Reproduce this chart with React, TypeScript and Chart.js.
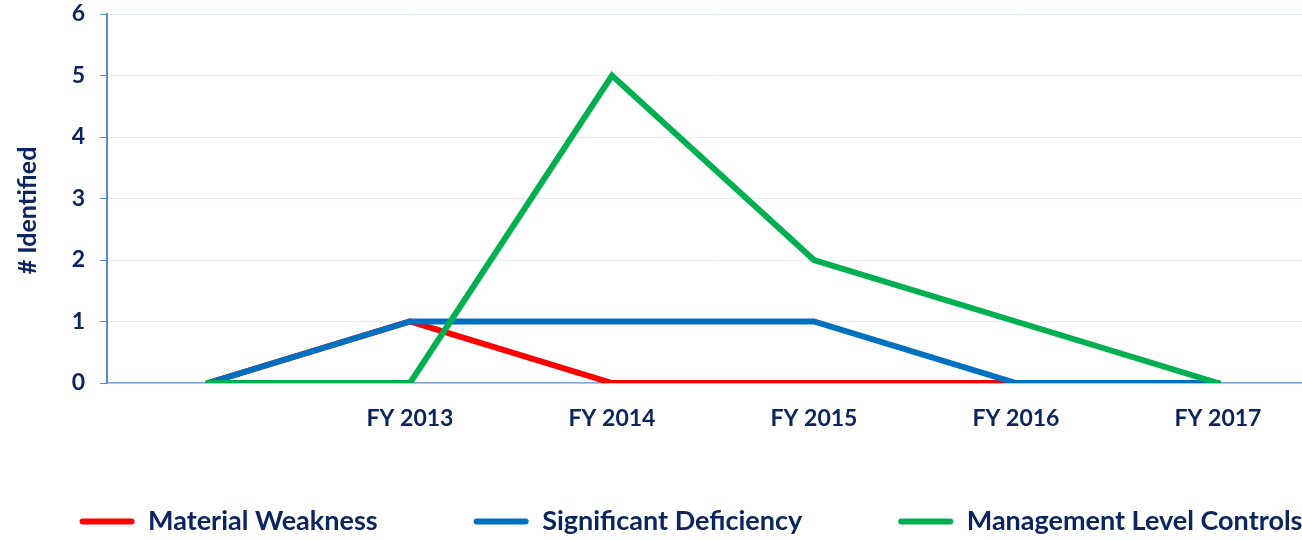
import React, { useEffect, useRef } from "react";
import { Chart, registerables } from "chart.js";

Chart.register(...registerables);

const categories = ["", "FY 2013", "FY 2014", "FY 2015", "FY 2016", "FY 2017"];
const materialWeakness = [0, 1, 0, 0, 0, 0];
const significantDeficiency = [0, 1, 1, 1, 0, 0];
const managementLevelControls = [0, 0, 5, 2, 1, 0];
const seriesNames = ["Material Weakness", "Significant Deficiency", "Management Level Controls"];
const seriesColors = ["#ff0000", "#0070c0", "#00b050"];
const yMin = 0;
const yMax = 6;
const yStep = 1;
const yTitle = "# Identified";

const NAVY = "#0b2560";
const FONT = "Lato, 'Open Sans', sans-serif";
const SHIFT = 18;

const tweaks = {
  id: "tweaks",
  beforeDraw(chart: any) {
    const x = chart.scales.x;
    if (x) x._computeLabelArea = () => undefined;
    const y = chart.scales.y;
    if (y && !y._titleShifted) {
      const orig = y.drawTitle.bind(y);
      y.drawTitle = (...args: any[]) => {
        const ctx = chart.ctx;
        ctx.save();
        ctx.translate(0, 12);
        orig(...args);
        ctx.restore();
      };
      y._titleShifted = true;
    }
  },
};

export default function App() {
  const ref = useRef<HTMLCanvasElement | null>(null);
  useEffect(() => {
    if (!ref.current) return;
    const values = [materialWeakness, significantDeficiency, managementLevelControls];
    const chart = new Chart(ref.current, {
      type: "line",
      data: {
        labels: categories,
        datasets: values.map((v, i) => ({
          label: seriesNames[i],
          data: v,
          borderColor: seriesColors[i],
          backgroundColor: seriesColors[i],
          borderWidth: 6,
          pointRadius: 0,
          pointHoverRadius: 0,
          tension: 0,
          borderCapStyle: "round" as const,
          order: 2 - i,
        })),
      },
      plugins: [tweaks],
      options: {
        animation: false,
        responsive: false,
        maintainAspectRatio: false,
        layout: { padding: 0 },
        plugins: {
          tooltip: { enabled: false },
          legend: {
            position: "bottom",
            labels: {
              boxWidth: 55,
              boxHeight: 6,
              padding: 96,
              color: NAVY,
              useBorderRadius: true,
              borderRadius: 3,
              font: { family: FONT, size: 27, weight: "bold" },
              generateLabels: (c: any) =>
                Chart.defaults.plugins.legend.labels
                  .generateLabels(c)
                  .map((l: any) => ({ ...l, lineWidth: 0, strokeStyle: "transparent" })),
              sort: (a: any, b: any) => a.datasetIndex - b.datasetIndex,
            },
          },
        },
        scales: {
          x: {
            offset: true,
            grid: { display: false, drawTicks: false },
            border: { display: true, color: "#80a4d0", width: 1.5 },
            ticks: {
              color: NAVY,
              padding: 22,
              maxRotation: 0,
              autoSkip: false,
              font: { family: FONT, size: 23, weight: "bold" },
            },
            afterFit: (s: any) => {
              s.height = 29;
            },
          },
          y: {
            min: yMin,
            max: yMax,
            ticks: {
              stepSize: yStep,
              color: NAVY,
              padding: 15,
              font: { family: FONT, size: 23, weight: "bold" },
            },
            grid: { color: "#e6edf5", lineWidth: 1, tickColor: "#5a8ac6", tickLength: 7 },
            border: { display: true, color: "#5a8ac6", width: 2 },
            title: {
              display: true,
              text: yTitle,
              color: NAVY,
              padding: { top: 13 + SHIFT, bottom: 0 },
              font: { family: FONT, size: 25, weight: "bold" },
            },
            afterFit: (s: any) => {
              s.width = 107 + SHIFT;
              s.paddingTop = 14;
              s.paddingBottom = 0;
            },
          },
          y2: {
            position: "right",
            display: true,
            grid: { display: false },
            border: { display: false },
            ticks: { display: false },
            afterFit: (s: any) => {
              s.width = 81;
              s.paddingTop = 0;
              s.paddingBottom = 0;
            },
          },
        },
      },
    });
    return () => chart.destroy();
  }, []);
  return (
    <div style={{ position: "absolute", left: 0, top: 0, width: 1302, height: 540, overflow: "hidden", background: "#fff" }}>
      <canvas
        ref={ref}
        width={1418}
        height={545}
        style={{ display: "block", width: 1418, height: 545, marginLeft: -SHIFT }}
      />
    </div>
  );
}
